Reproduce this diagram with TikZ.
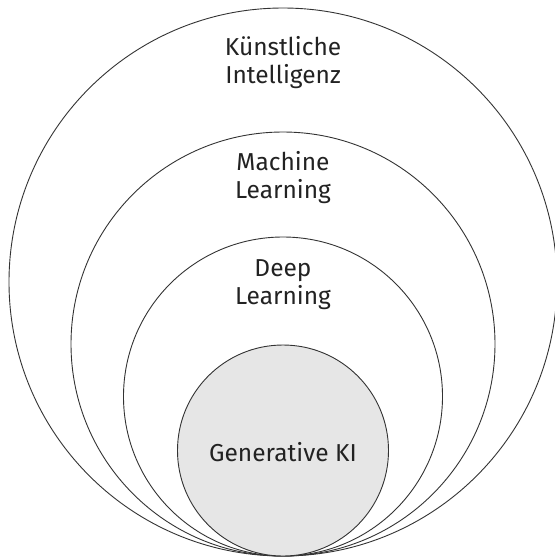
\documentclass[tikz,border=0pt]{standalone}
\usepackage{fontspec}
\setmainfont{Fira Sans}
\definecolor{ringline}{HTML}{333333}
\definecolor{corefill}{HTML}{E6E6E6}
\definecolor{labeltext}{HTML}{222222}
\begin{document}
\begin{tikzpicture}[x=1pt,y=1pt,
  ring/.style={circle, draw=ringline, line width=0.9pt, inner sep=0pt, minimum size=#1},
  label/.style={font=\fontsize{24.5}{28}\selectfont, text=labeltext, align=center, inner sep=0pt}]
  \useasboundingbox (0,0) rectangle (555,-558);
  % nested circles, all touching at the bottom
  \node[ring=548pt] (ki) at (283,-282) {};
  \node[ring=424pt] (ml) at (283,-344) {};
  \node[ring=319pt] (dl) at (283,-396.5) {};
  \node[ring=211pt, fill=corefill] (gen) at (283,-450.5) {};
  % labels
  \node[label] (kitext) at (283,-63) {Künstliche\\Intelligenz};
  \node[label] (mltext) at (283,-178) {Machine\\Learning};
  \node[label] (dltext) at (283,-285) {Deep\\Learning};
  \node[label] (gentext) at (283,-452) {Generative KI};
\end{tikzpicture}
\end{document}
